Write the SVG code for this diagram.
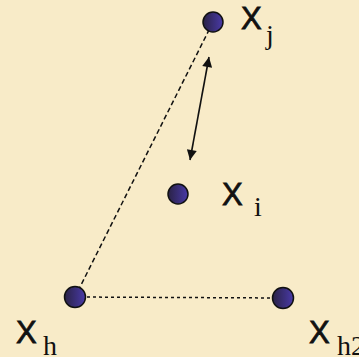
<svg xmlns="http://www.w3.org/2000/svg" width="359" height="357" viewBox="0 0 359 357">
<style>
.node{stroke:#111;stroke-width:1.5;fill:url(#g)}
.lbl{font-family:"Liberation Sans",Arial,sans-serif;font-size:31px;fill:#111;stroke:#111;stroke-width:0.8}
.sub{font-family:"Liberation Serif","Times New Roman",serif;font-size:28px;fill:#111}
.dash{stroke:#111;stroke-width:1.5;fill:none}
</style>
<defs>
<linearGradient id="g" x1="0" y1="0" x2="1" y2="0">
<stop offset="0" stop-color="#2a2245"/>
<stop offset="0.6" stop-color="#3c3080"/>
<stop offset="1" stop-color="#4a3aa8"/>
</linearGradient>
<marker id="ah" viewBox="0 0 10 10" refX="10" refY="5" markerWidth="14" markerHeight="10" markerUnits="userSpaceOnUse" orient="auto-start-reverse">
<path d="M0,0 L10,5 L0,10 z" fill="#111"/>
</marker>
</defs>
<rect width="359" height="357" fill="#f8ebc8"/>
<g id="connectors">
<line class="dash" x1="213" y1="22" x2="75" y2="297" stroke-dasharray="5 3"/>
<line class="dash" x1="75" y1="297" x2="283" y2="298" stroke-dasharray="3 3"/>
<line stroke="#111" stroke-width="1.6" x1="209" y1="57" x2="190" y2="160" marker-start="url(#ah)" marker-end="url(#ah)"/>
</g>
<g id="xj">
<circle class="node" cx="213" cy="22" r="10"/>
<text class="lbl" x="241" y="29">X</text>
<text class="sub" x="266" y="44">j</text>
</g>
<g id="xi">
<circle class="node" cx="178" cy="194" r="10"/>
<text class="lbl" x="222" y="205">X</text>
<text class="sub" x="254" y="216">i</text>
</g>
<g id="xh">
<circle class="node" cx="75" cy="297" r="10.5"/>
<text class="lbl" x="16" y="343">X</text>
<text class="sub" x="43" y="355">h</text>
</g>
<g id="xh2">
<circle class="node" cx="283" cy="298" r="10.5"/>
<text class="lbl" x="309" y="343">X</text>
<text class="sub" x="337" y="355">h2</text>
</g>
</svg>
